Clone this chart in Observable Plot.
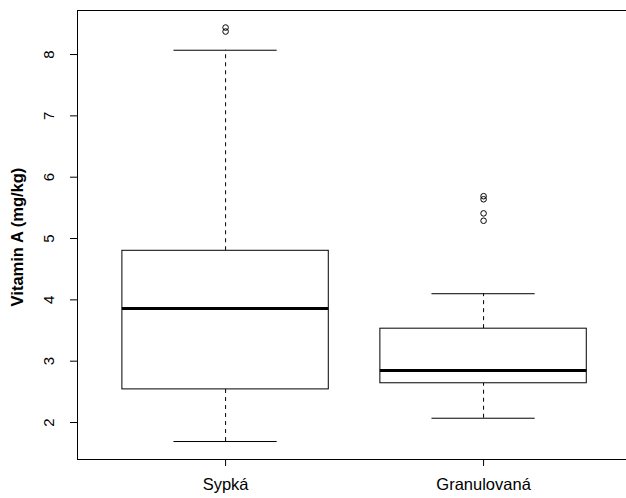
<!DOCTYPE html>
<html>
<head>
<meta charset="utf-8">
<script src="https://cdn.jsdelivr.net/npm/d3@7"></script>
<script src="https://cdn.jsdelivr.net/npm/@observablehq/plot@0.6"></script>
<style>
html, body { margin: 0; padding: 0; background: #fff; }
#chart svg { display: block; font-family: "Liberation Sans", Arial, sans-serif; }
</style>
</head>
<body>
<div id="chart"></div>
<script>
const categories = ["Sypká", "Granulovaná"];
const whiskerLow = [1.69, 2.07];
const q1 = [2.54, 2.64];
const median = [3.86, 2.85];
const q3 = [4.80, 3.53];
const whiskerHigh = [8.07, 4.10];
const outlierGroup = ["Sypká", "Sypká", "Granulovaná", "Granulovaná", "Granulovaná", "Granulovaná"];
const outlierValue = [8.44, 8.375, 5.69, 5.64, 5.41, 5.29];
const yTicks = [2, 3, 4, 5, 6, 7, 8];
const yLabel = "Vitamin A (mg/kg)";

const boxes = categories.map((c, i) => ({
  cat: c, pos: i + 1,
  lo: whiskerLow[i], q1: q1[i], med: median[i], q3: q3[i], hi: whiskerHigh[i]
}));
const outliers = outlierGroup.map((g, i) => ({pos: categories.indexOf(g) + 1, v: outlierValue[i]}));
const halfBox = 0.4, halfStaple = 0.2;

const chart = Plot.plot({
  width: 626,
  height: 498,
  marginLeft: 77,
  marginRight: 0,
  marginTop: 10,
  marginBottom: 39,
  style: {fontFamily: "Liberation Sans, Arial, sans-serif", fontSize: "16px", color: "#000", background: "#fff"},
  x: {type: "linear", domain: [0.426, 2.554]},
  y: {domain: [1.397, 8.718]},
  marks: [
    Plot.frame({stroke: "#000", strokeWidth: 1}),
    // dashed whiskers
    Plot.ruleX(boxes, {x: "pos", y1: "q3", y2: "hi", stroke: "#000", strokeDasharray: "4,4"}),
    Plot.ruleX(boxes, {x: "pos", y1: "lo", y2: "q1", stroke: "#000", strokeDasharray: "4,4"}),
    // staples
    Plot.ruleY(boxes, {y: "hi", x1: d => d.pos - halfStaple, x2: d => d.pos + halfStaple, stroke: "#000"}),
    Plot.ruleY(boxes, {y: "lo", x1: d => d.pos - halfStaple, x2: d => d.pos + halfStaple, stroke: "#000"}),
    // boxes
    Plot.rect(boxes, {x1: d => d.pos - halfBox, x2: d => d.pos + halfBox, y1: "q1", y2: "q3", fill: "#fff", stroke: "#000", strokeWidth: 1}),
    // medians
    Plot.ruleY(boxes, {y: "med", x1: d => d.pos - halfBox, x2: d => d.pos + halfBox, stroke: "#000", strokeWidth: 3}),
    // outliers
    Plot.dot(outliers, {x: "pos", y: "v", r: 2.8, stroke: "#000", fill: "none", strokeWidth: 1}),
    // y axis
    Plot.axisY(yTicks, {tickSize: 7, tickFormat: () => "", label: null, stroke: "#000"}),
    Plot.ruleX([0], {x: () => 0.426, y1: 2, y2: 8, stroke: "#000"}),
    Plot.text(yTicks, {y: d => d, text: d => String(d), frameAnchor: "left", dx: -28, rotate: -90, textAnchor: "middle", lineAnchor: "middle", fontSize: 15, fill: "#000"}),
    Plot.text([yLabel], {text: d => d, frameAnchor: "left", dx: -60, dy: 2, rotate: -90, textAnchor: "middle", lineAnchor: "middle", fontSize: 16.5, fontWeight: "bold", fill: "#000"}),
    // x axis
    Plot.axisX([1, 2], {tickSize: 7, tickPadding: 12, tickFormat: d => categories[d - 1], label: null, fontSize: 16.5, stroke: "#000"})
  ]
});
document.getElementById("chart").appendChild(chart);
</script>
</body>
</html>
